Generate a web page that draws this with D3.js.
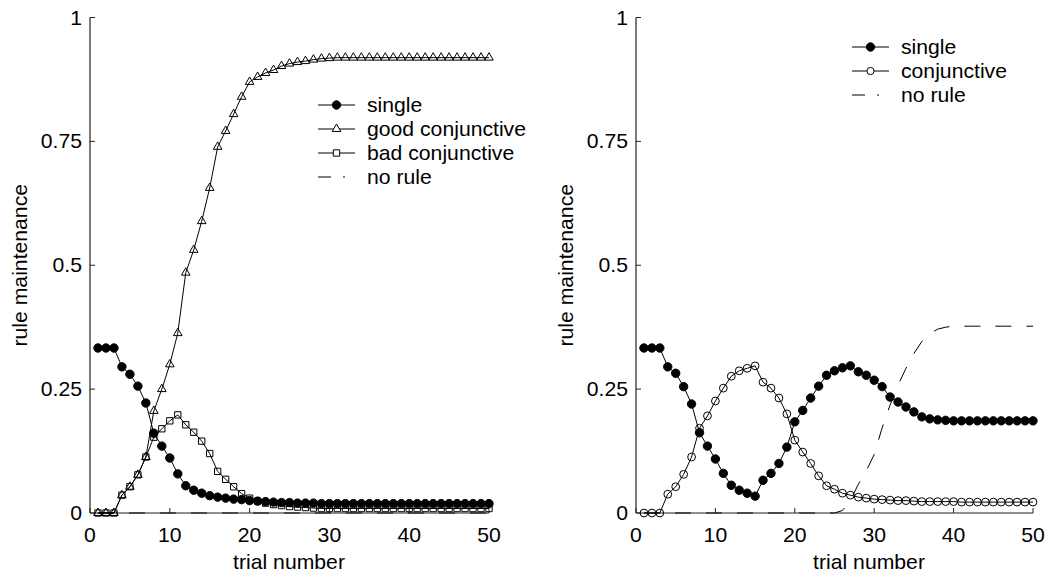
<!DOCTYPE html>
<html>
<head>
<meta charset="utf-8">
<script src="https://cdn.jsdelivr.net/npm/d3@7"></script>
<style>
  html, body { margin: 0; padding: 0; background: #fff; }
  svg { display: block; }
  text { font-family: "Liberation Sans", Arial, Helvetica, sans-serif; font-size: 20px; fill: #000; }
</style>
</head>
<body>
<svg id="chart" width="1048" height="577"></svg>
<script>
// ---------------- data ----------------
const trials = [1,2,3,4,5,6,7,8,9,10,11,12,13,14,15,16,17,18,19,20,21,22,23,24,25,
                26,27,28,29,30,31,32,33,34,35,36,37,38,39,40,41,42,43,44,45,46,47,48,49,50];

const xTicks = [0, 10, 20, 30, 40, 50];
const yTicks = [0, 0.25, 0.5, 0.75, 1];
const yTickLabels = ["0", "0.25", "0.5", "0.75", "1"];
const xLabel = "trial number";
const yLabel = "rule maintenance";

// left panel
const leftSingle = [0.333,0.333,0.333,0.295,0.280,0.256,0.222,0.161,0.135,0.111,
                    0.079,0.055,0.046,0.040,0.035,0.032,0.030,0.028,0.027,0.025,
                    0.024,0.023,0.022,0.021,0.021,0.020,0.020,0.020,0.019,0.019,
                    0.019,0.019,0.019,0.019,0.019,0.019,0.019,0.019,0.019,0.019,
                    0.019,0.019,0.019,0.019,0.019,0.019,0.019,0.019,0.019,0.019];
const leftGoodConj = [0,0,0,0.036,0.053,0.077,0.113,0.206,0.250,0.300,
                      0.363,0.485,0.531,0.589,0.656,0.739,0.771,0.805,0.840,0.870,
                      0.880,0.888,0.894,0.902,0.907,0.910,0.912,0.915,0.917,0.918,
                      0.919,0.919,0.919,0.919,0.919,0.919,0.919,0.919,0.919,0.919,
                      0.919,0.919,0.919,0.919,0.919,0.919,0.919,0.919,0.919,0.919];
const leftBadConj = [0,0,0,0.036,0.053,0.077,0.113,0.153,0.170,0.186,
                     0.198,0.178,0.163,0.145,0.120,0.084,0.068,0.053,0.039,0.030,
                     0.024,0.020,0.017,0.015,0.013,0.012,0.011,0.010,0.009,0.009,
                     0.009,0.009,0.009,0.009,0.009,0.009,0.009,0.009,0.009,0.009,
                     0.009,0.009,0.009,0.009,0.009,0.009,0.009,0.009,0.009,0.009];
const leftNoRule = [0,0,0,0,0,0,0,0,0,0, 0,0,0,0,0,0,0,0,0,0,
                    0,0,0,0,0,0,0,0,0,0, 0,0,0,0,0,0,0,0,0,0,
                    0,0,0,0,0,0,0,0,0,0];

// right panel
const rightSingle = [0.333,0.333,0.333,0.295,0.282,0.255,0.220,0.162,0.135,0.109,
                     0.080,0.056,0.046,0.040,0.034,0.066,0.080,0.100,0.133,0.184,
                     0.207,0.232,0.256,0.278,0.287,0.293,0.297,0.285,0.278,0.268,
                     0.255,0.234,0.224,0.214,0.204,0.194,0.190,0.188,0.187,0.186,
                     0.186,0.186,0.186,0.186,0.186,0.186,0.186,0.186,0.186,0.186];
const rightConj = [0,0,0,0.038,0.053,0.078,0.113,0.171,0.196,0.226,
                   0.252,0.276,0.287,0.292,0.297,0.264,0.252,0.232,0.200,0.147,
                   0.123,0.100,0.075,0.055,0.048,0.040,0.036,0.032,0.030,0.028,
                   0.027,0.026,0.025,0.025,0.024,0.023,0.023,0.023,0.023,0.023,
                   0.022,0.022,0.022,0.022,0.022,0.022,0.022,0.022,0.022,0.022];
const rightNoRule = [0,0,0,0,0,0,0,0,0,0, 0,0,0,0,0,0,0,0,0,0,
                     0,0,0,0,0,0.005,0.025,0.058,0.085,0.118,
                     0.172,0.218,0.258,0.292,0.322,0.346,0.362,0.371,0.375,0.377,
                     0.377,0.377,0.377,0.377,0.377,0.377,0.377,0.377,0.377,0.377];

const leftLegend = ["single", "good conjunctive", "bad conjunctive", "no rule"];
const rightLegend = ["single", "conjunctive", "no rule"];

// ---------------- drawing ----------------
const svg = d3.select("#chart");
const TEXT_STRETCH = 1.06;

function addText(g, x, y, str, anchor, rotate) {
  return g.append("text")
    .attr("transform", `translate(${x},${y})${rotate ? " rotate(" + rotate + ")" : ""} scale(${TEXT_STRETCH},1)`)
    .attr("text-anchor", anchor || "start")
    .text(str);
}

function markerPath(type) {
  if (type === "triangle") return d3.symbol(d3.symbolTriangle, 32)();
  if (type === "square") return d3.symbol(d3.symbolSquare, 40)();
  return null;
}

function drawPanel(p) {
  const g = svg.append("g");
  const x = d3.scaleLinear().domain([0, 50]).range([p.x0, p.x1]);
  const y = d3.scaleLinear().domain([0, 1]).range([p.y0, p.y1]);

  const axisColor = "#222";
  g.append("line").attr("x1", x(0)).attr("x2", x(50)).attr("y1", y(0)).attr("y2", y(0))
    .attr("stroke", axisColor).attr("stroke-width", 1.2);
  g.append("line").attr("x1", x(0)).attr("x2", x(0)).attr("y1", y(0)).attr("y2", y(1))
    .attr("stroke", axisColor).attr("stroke-width", 1.2);

  g.selectAll(".xt").data(xTicks).join("line")
    .attr("x1", d => x(d)).attr("x2", d => x(d))
    .attr("y1", y(0)).attr("y2", y(0) - 5)
    .attr("stroke", axisColor).attr("stroke-width", 1);
  xTicks.forEach(d => addText(g, x(d), y(0) + 29, String(d), "middle"));

  g.selectAll(".yt").data(yTicks).join("line")
    .attr("x1", x(0)).attr("x2", x(0) + 5)
    .attr("y1", d => y(d)).attr("y2", d => y(d))
    .attr("stroke", axisColor).attr("stroke-width", 1);
  yTicks.forEach((d, i) => addText(g, x(0) - 8, y(d) + 7, yTickLabels[i], "end"));

  addText(g, p.xLabelX, 569, xLabel, "middle");
  addText(g, p.yLabelX, (y(0) + y(1)) / 2, yLabel, "middle", -90);

  const line = d3.line().x((d, i) => x(trials[i])).y(d => y(d));

  p.series.forEach(s => {
    g.append("path").datum(s.values)
      .attr("d", line)
      .attr("fill", "none").attr("stroke", "#000").attr("stroke-width", 1)
      .attr("stroke-dasharray", s.dash || null);
    if (s.marker === "dot" || s.marker === "ring") {
      g.selectAll(null).data(s.values).join("circle")
        .attr("cx", (d, i) => x(trials[i])).attr("cy", d => y(d))
        .attr("r", s.marker === "dot" ? 4.2 : 3.9)
        .attr("fill", s.marker === "dot" ? "#000" : "none")
        .attr("stroke", "#000").attr("stroke-width", 1);
    } else if (s.marker) {
      g.selectAll(null).data(s.values).join("path")
        .attr("d", markerPath(s.marker))
        .attr("transform", (d, i) => `translate(${x(trials[i])},${y(d)})`)
        .attr("fill", "none").attr("stroke", "#000").attr("stroke-width", 1);
    }
  });

  // legend
  const lg = g.append("g");
  p.series.forEach((s, i) => {
    const cy = p.legY + i * 24;
    lg.append("line").attr("x1", p.legX).attr("x2", p.legX + 37)
      .attr("y1", cy).attr("y2", cy)
      .attr("stroke", "#000").attr("stroke-width", 1)
      .attr("stroke-dasharray", s.dash ? "13,12,2,100" : null);
    const mx = p.legX + 18.5;
    if (s.marker === "dot" || s.marker === "ring") {
      lg.append("circle").attr("cx", mx).attr("cy", cy)
        .attr("r", s.marker === "dot" ? 4.2 : 3.6)
        .attr("fill", s.marker === "dot" ? "#000" : "#fff")
        .attr("stroke", "#000");
    } else if (s.marker) {
      lg.append("path").attr("d", markerPath(s.marker))
        .attr("transform", `translate(${mx},${cy})`)
        .attr("fill", "#fff").attr("stroke", "#000");
    }
    addText(lg, p.legX + 49, cy + 7, p.legend[i], "start");
  });
}

drawPanel({
  x0: 90, x1: 489, y0: 513, y1: 17.5,
  xLabelX: 289, yLabelX: 27,
  legX: 318, legY: 105, legend: leftLegend,
  series: [
    { values: leftSingle, marker: "dot" },
    { values: leftGoodConj, marker: "triangle" },
    { values: leftBadConj, marker: "square" },
    { values: leftNoRule, dash: "16,15" }
  ]
});

drawPanel({
  x0: 636, x1: 1033, y0: 513, y1: 17.5,
  xLabelX: 869, yLabelX: 573,
  legX: 852, legY: 47, legend: rightLegend,
  series: [
    { values: rightSingle, marker: "dot" },
    { values: rightConj, marker: "ring" },
    { values: rightNoRule, dash: "16,15" }
  ]
});
</script>
</body>
</html>
